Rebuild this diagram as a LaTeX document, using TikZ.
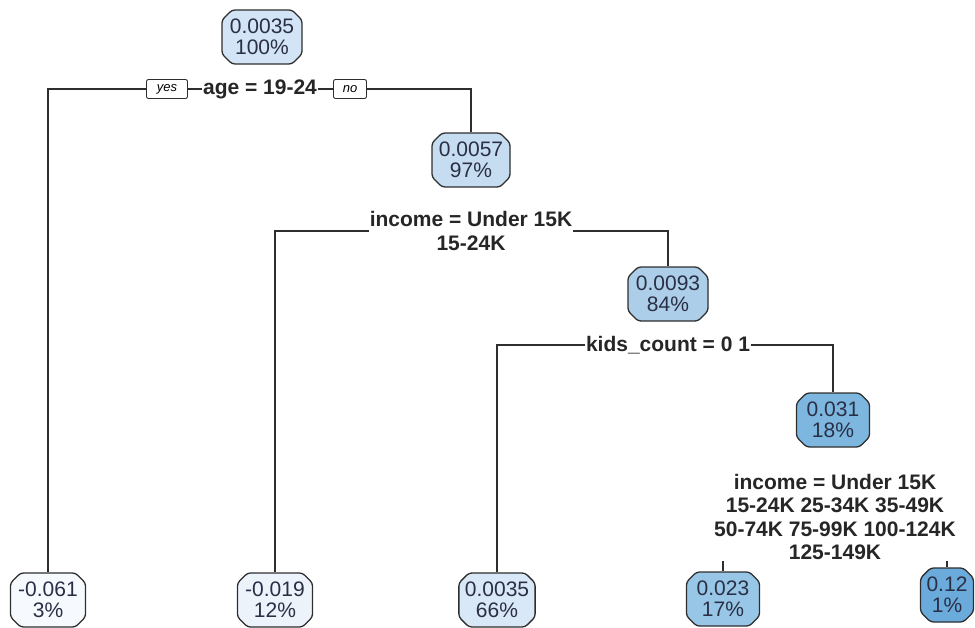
\documentclass[tikz,border=0pt]{standalone}
\usepackage{fontspec}
\setmainfont{Liberation Sans}
\usetikzlibrary{shapes.misc,backgrounds}
\definecolor{edgec}{HTML}{2E2E2E}
\definecolor{txtc}{HTML}{2A2F45}
\definecolor{c0}{HTML}{D2E4F5}
\definecolor{c1}{HTML}{C6DCF0}
\definecolor{c2}{HTML}{ADCEE9}
\definecolor{c3}{HTML}{7DB6DE}
\definecolor{l1}{HTML}{F6FAFE}
\definecolor{l2}{HTML}{ECF3FB}
\definecolor{l3}{HTML}{D9E8F6}
\definecolor{l4}{HTML}{98C6E6}
\definecolor{l5}{HTML}{6AABDB}
\tikzset{
  treenode/.style={chamfered rectangle, chamfered rectangle xsep=5pt, chamfered rectangle ysep=5pt,
    draw=edgec, line width=1.3pt, rounded corners=3pt, align=center, text=txtc,
    font=\fontsize{21}{21}\selectfont, inner xsep=1pt, inner ysep=4pt, minimum height=54pt},
  splitlabel/.style={fill=white, align=center, text=black!85, inner sep=1pt,
    font=\bfseries\fontsize{21}{23.3}\selectfont},
  yesno/.style={draw=edgec, line width=0.9pt, rounded corners=2pt, fill=white,
    font=\itshape\fontsize{13}{14}\selectfont, inner xsep=0pt, inner ysep=2pt, minimum height=19pt},
  branch/.style={draw=edgec, line width=1.4pt}
}
\begin{document}
\begin{tikzpicture}[x=1pt,y=-1pt]
\useasboundingbox (0,0) rectangle (975,627);
% internal nodes
\node[treenode, fill=c0, minimum width=80pt] (root) at (262,37) {0.0035\\100\%};
\node[treenode, fill=c1, minimum width=78pt] (n2) at (471,160) {0.0057\\97\%};
\node[treenode, fill=c2, minimum width=80pt] (n3) at (668,294) {0.0093\\84\%};
\node[treenode, fill=c3, minimum width=73pt] (n4) at (833,420) {0.031\\18\%};
% leaves
\node[treenode, fill=l1, minimum width=75pt] (L1) at (48,600) {-0.061\\3\%};
\node[treenode, fill=l2, minimum width=75pt] (L2) at (275,600) {-0.019\\12\%};
\node[treenode, fill=l3, minimum width=76pt] (L3) at (497,600) {0.0035\\66\%};
\node[treenode, fill=l4, minimum width=73pt] (L4) at (723,599) {0.023\\17\%};
\node[treenode, fill=l5, minimum width=52pt] (L5) at (947,595) {0.12\\1\%};
% split labels
\node[splitlabel] (s1) at (260,89) {age = 19-24};
\node[yesno, minimum width=41pt] (yes) at (167,89) {yes};
\node[yesno, minimum width=33pt] (no) at (350,89) {no};
\node[splitlabel] (s2) at (471,231) {income = Under 15K\\15-24K};
\node[splitlabel] (s3) at (668,345) {kids\_count = 0 1};
\node[splitlabel] (s4) at (835,517) {income = Under 15K\\15-24K 25-34K 35-49K\\50-74K 75-99K 100-124K\\125-149K};
% branches
\begin{scope}[on background layer]
\draw[branch] (L1.north) |- (yes.west);
\draw[branch] (yes.east) -- (s1.west);
\draw[branch] (s1.east) -- (no.west);
\draw[branch] (no.east) -| (n2.north);
\draw[branch] (L2.north) |- (s2.west);
\draw[branch] (s2.east) -| (n3.north);
\draw[branch] (L3.north) |- (s3.west);
\draw[branch] (s3.east) -| (n4.north);
\draw[branch] (L4.north) -- ++(0,-10);
\draw[branch] (L5.north) -- ++(0,-6);
\end{scope}
\end{tikzpicture}
\end{document}
